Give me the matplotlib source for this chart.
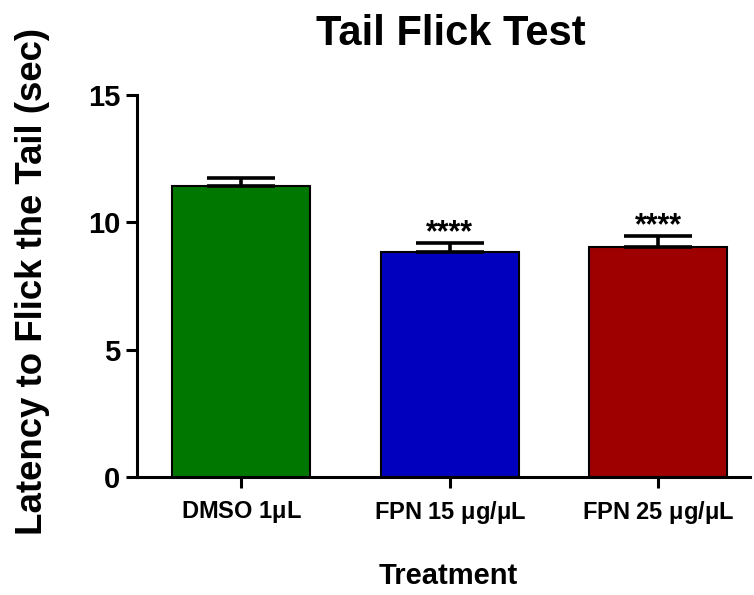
import matplotlib
matplotlib.use("Agg")
import matplotlib.pyplot as plt

# tail flick latency per treatment group (mean + SEM)
groups = ["DMSO 1$\\mathregular{\\mu}$L", "FPN 15 $\\mathregular{\\mu}$g/$\\mathregular{\\mu}$L", "FPN 25 $\\mathregular{\\mu}$g/$\\mathregular{\\mu}$L"]
means = [11.44, 8.85, 9.04]
sems = [0.29, 0.33, 0.43]
stars = ["", "****", "****"]
colors = ["#007800", "#0000BE", "#9E0000"]

plt.rcParams["font.family"] = ["Liberation Sans", "DejaVu Sans"]
plt.rcParams["font.weight"] = "bold"

W, H = 754, 595
x0, x1, y0, y1 = 137, 750, 477, 95
fig = plt.figure(figsize=(W / 100, H / 100), dpi=100)
ax = fig.add_axes([x0 / W, 1 - y0 / H, (x1 - x0) / W, (y0 - y1) / H])

pos = list(range(len(groups)))
ax.bar(pos, means, width=0.66, color=colors, edgecolor="black", linewidth=1.5, zorder=2)
ax.errorbar(pos, means, yerr=[[0] * len(sems), sems], fmt="none", ecolor="black",
            elinewidth=2.6, capsize=24.5, capthick=2.6, zorder=3)
for p, m, s, t in zip(pos, means, sems, stars):
    if t:
        ax.text(p, m + s - 0.2, t, ha="center", va="bottom", fontsize=22, fontweight="bold")

ax.set_xlim(-0.5, 2.44)
ax.set_ylim(0, 15)
ax.set_yticks([0, 5, 10, 15])
ax.set_xticks(pos)
ax.set_xticklabels(groups, fontsize=17, fontweight="bold")
ax.tick_params(axis="y", labelsize=21, width=2.2, length=8, pad=4)
ax.tick_params(axis="x", width=2.2, length=8, pad=8)
for side in ["top", "right"]:
    ax.spines[side].set_visible(False)
for side in ["left", "bottom"]:
    ax.spines[side].set_linewidth(2.2)

aw, ah = x1 - x0, y0 - y1
ax.set_ylabel("Latency to Flick the Tail (sec)", fontsize=26.4, fontweight="bold")
ax.yaxis.set_label_coords(-(x0 - 50) / aw, (y0 - 281) / ah)
ax.set_xlabel("Treatment", fontsize=21, fontweight="bold")
ax.xaxis.set_label_coords((448 - x0) / aw, -(576 - y0) / ah)
ax.xaxis.label.set_va("center")
ax.set_title("Tail Flick Test", fontsize=30, fontweight="bold", pad=36, x=(451 - x0) / aw)

fig.savefig("out.png", dpi=100)
